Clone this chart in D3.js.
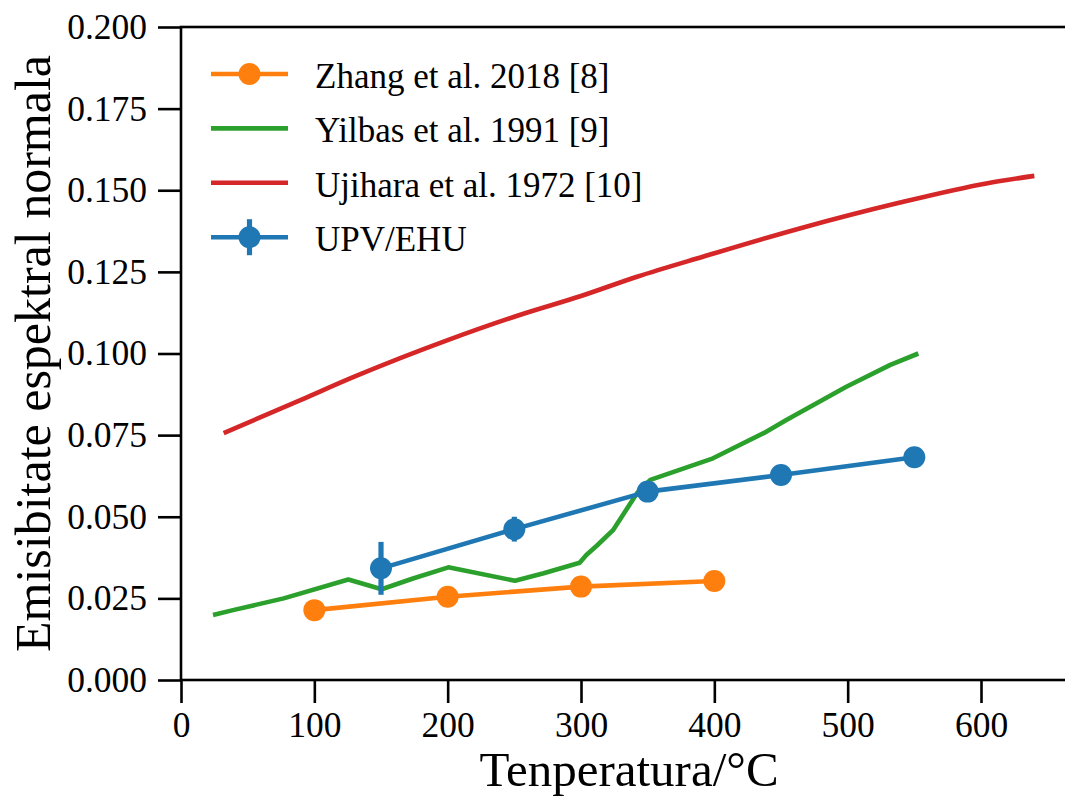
<!DOCTYPE html>
<html>
<head>
<meta charset="utf-8">
<script src="https://cdn.jsdelivr.net/npm/d3@7"></script>
<style>
  html, body { margin: 0; padding: 0; background: #fff; }
  svg { display: block; }
  text { font-family: "Liberation Serif", "Times New Roman", serif; fill: #000; }
</style>
</head>
<body>
<svg id="chart" width="1065" height="798"></svg>
<script>
// Temperature (°C) and normal spectral emissivity for each source
const zhangT = [100, 200, 300, 400];
const zhangE = [0.0214, 0.0255, 0.0286, 0.0303];

const yilbasT = [24, 39, 77, 125.5, 150.5, 174, 200.5, 250.5, 272, 299, 304, 312, 324, 342, 352, 399, 437, 454, 499, 532, 553];
const yilbasE = [0.0199, 0.0214, 0.0250, 0.0308, 0.0278, 0.0311, 0.0345, 0.0304, 0.0327, 0.0359, 0.0383, 0.0412, 0.0459, 0.0572, 0.0613, 0.0679, 0.0756, 0.0796, 0.0898, 0.0965, 0.1000];

const ujiharaT = [32, 90, 130, 200, 254, 300, 342, 392, 464, 537, 604, 640];
const ujiharaE = [0.0756, 0.0858, 0.0929, 0.1041, 0.1118, 0.1176, 0.1235, 0.1297, 0.1383, 0.1460, 0.1521, 0.1544];

const upvT = [150, 250, 350, 450, 550];
const upvE = [0.0342, 0.0462, 0.0577, 0.0628, 0.0682];
const upvErr = [0.0081, 0.0038, 0.0020, 0.0020, 0.0020];

const xTicks = [0, 100, 200, 300, 400, 500, 600];
const yTicks = [0, 0.025, 0.05, 0.075, 0.1, 0.125, 0.15, 0.175, 0.2];

const legendLabels = ["Zhang et al. 2018 [8]", "Yilbas et al. 1991 [9]", "Ujihara et al. 1972 [10]", "UPV/EHU"];
const xLabel = "Tenperatura/°C";
const yLabel = "Emisibitate espektral normala";

const colors = { orange: "#ff7f0e", green: "#2ca02c", red: "#d62728", blue: "#1f77b4" };

const svg = d3.select("#chart");
const plot = { left: 181, right: 1077, top: 27, bottom: 680 };

const x = d3.scaleLinear().domain([0, 672]).range([plot.left, plot.right]);
const y = d3.scaleLinear().domain([0, 0.2]).range([plot.bottom, plot.top]);

const zip = (a, b) => a.map((v, i) => [v, b[i]]);
const line = d3.line().x(d => x(d[0])).y(d => y(d[1]));
const smooth = d3.line().x(d => x(d[0])).y(d => y(d[1])).curve(d3.curveMonotoneX);

const LW = 4.6, R = 11;

// Orange series with markers
svg.append("path").datum(zip(zhangT, zhangE)).attr("d", line)
  .attr("fill", "none").attr("stroke", colors.orange).attr("stroke-width", LW)
  .attr("stroke-linejoin", "round");
svg.append("g").selectAll("circle").data(zip(zhangT, zhangE)).join("circle")
  .attr("cx", d => x(d[0])).attr("cy", d => y(d[1])).attr("r", R).attr("fill", colors.orange);

svg.append("path").datum(zip(yilbasT, yilbasE)).attr("d", line)
  .attr("fill", "none").attr("stroke", colors.green).attr("stroke-width", LW)
  .attr("stroke-linejoin", "round");

// Red smooth curve
svg.append("path").datum(zip(ujiharaT, ujiharaE)).attr("d", smooth)
  .attr("fill", "none").attr("stroke", colors.red).attr("stroke-width", LW);

// Blue series with error bars
const upv = upvT.map((t, i) => ({ t, e: upvE[i], err: upvErr[i] }));
svg.append("g").selectAll("line").data(upv).join("line")
  .attr("x1", d => x(d.t)).attr("x2", d => x(d.t))
  .attr("y1", d => y(d.e - d.err)).attr("y2", d => y(d.e + d.err))
  .attr("stroke", colors.blue).attr("stroke-width", 5.2);
svg.append("path").datum(zip(upvT, upvE)).attr("d", line)
  .attr("fill", "none").attr("stroke", colors.blue).attr("stroke-width", LW)
  .attr("stroke-linejoin", "round");
svg.append("g").selectAll("circle").data(upv).join("circle")
  .attr("cx", d => x(d.t)).attr("cy", d => y(d.e)).attr("r", R).attr("fill", colors.blue);

// Axes frame
svg.append("rect")
  .attr("x", plot.left).attr("y", plot.top)
  .attr("width", plot.right - plot.left).attr("height", plot.bottom - plot.top)
  .attr("fill", "none").attr("stroke", "#000").attr("stroke-width", 2.6);

const xAxis = svg.append("g").attr("transform", `translate(0,${plot.bottom})`)
  .call(d3.axisBottom(x).tickValues(xTicks).tickFormat(d3.format("d")).tickSize(23).tickPadding(9));
const yAxis = svg.append("g").attr("transform", `translate(${plot.left},0)`)
  .call(d3.axisLeft(y).tickValues(yTicks).tickFormat(d3.format(".3f")).tickSize(23).tickPadding(11));
[xAxis, yAxis].forEach(g => {
  g.select(".domain").remove();
  g.selectAll(".tick line").attr("stroke", "#000").attr("stroke-width", 2.6);
  g.selectAll(".tick text").attr("font-family", "Liberation Serif, serif")
    .attr("font-size", 35.5).attr("fill", "#000");
});

// Axis titles
svg.append("text").attr("x", (plot.left + plot.right) / 2).attr("y", 786)
  .attr("text-anchor", "middle").attr("font-size", 49).text(xLabel);
svg.append("text").attr("transform", `translate(50,${(plot.top + plot.bottom) / 2}) rotate(-90)`)
  .attr("text-anchor", "middle").attr("font-size", 50).text(yLabel);

// Legend
const legendY = [74, 128.4, 182.8, 237.2];
const legendColor = [colors.orange, colors.green, colors.red, colors.blue];
const lg = svg.append("g");
legendLabels.forEach((lab, i) => {
  const cy = legendY[i];
  lg.append("line").attr("x1", 211).attr("x2", 288).attr("y1", cy).attr("y2", cy)
    .attr("stroke", legendColor[i]).attr("stroke-width", LW);
  if (i === 3) {
    lg.append("line").attr("x1", 249.5).attr("x2", 249.5).attr("y1", cy - 18).attr("y2", cy + 18)
      .attr("stroke", legendColor[i]).attr("stroke-width", 5.2);
  }
  if (i === 0 || i === 3) {
    lg.append("circle").attr("cx", 249.5).attr("cy", cy).attr("r", R).attr("fill", legendColor[i]);
  }
  lg.append("text").attr("x", 315).attr("y", cy + 14).attr("font-size", 35).text(lab);
});
</script>
</body>
</html>
